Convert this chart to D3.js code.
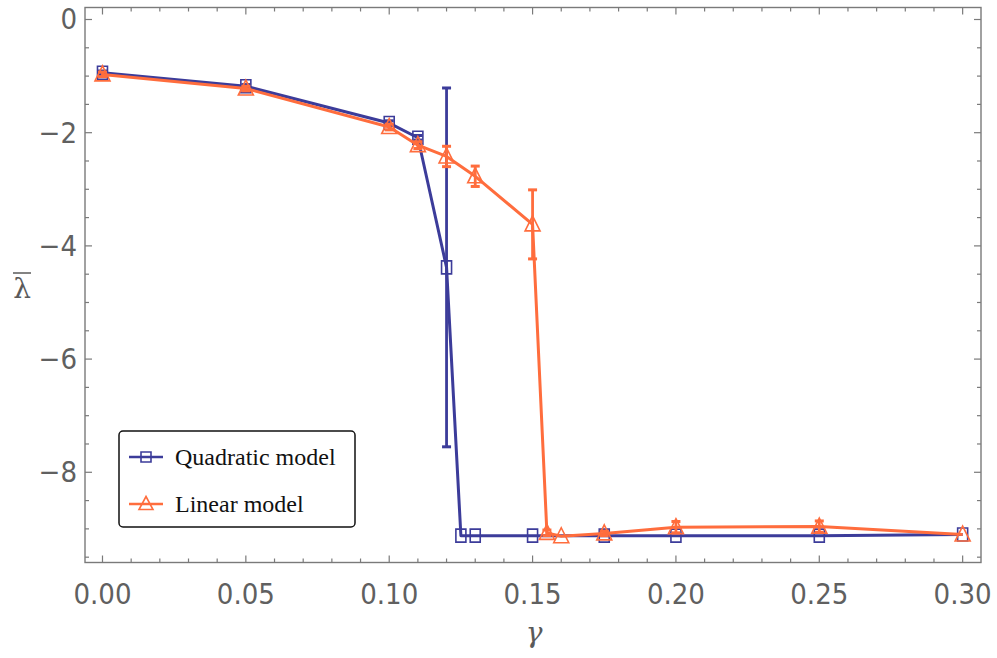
<!DOCTYPE html>
<html>
<head>
<meta charset="utf-8">
<script src="https://cdn.jsdelivr.net/npm/d3@7"></script>
<style>
  body { margin: 0; background: #fff; }
  svg { display: block; }
  .tick-label { font-family: "Liberation Sans Narrow", "DejaVu Sans Condensed", sans-serif; font-size: 29px; fill: #606060; }
  .legend-text { font-family: "Liberation Serif", "DejaVu Serif", serif; font-size: 24px; fill: #111; }
  .axis-title { font-family: "DejaVu Serif", "Liberation Serif", serif; font-size: 28px; fill: #5a5a5a; }
</style>
</head>
<body>
<div id="chart"></div>
<script>
"use strict";

// quadratic model
const gammaQuad = [0, 0.05, 0.1, 0.11, 0.12, 0.125, 0.13, 0.15, 0.175, 0.2, 0.25, 0.3];
const lambdaQuad = [-0.94, -1.18, -1.83, -2.09, -4.38, -9.12, -9.12, -9.12, -9.12, -9.12, -9.12, -9.1];
const errQuad = [0.03, 0.03, 0.04, 0.04, 3.17, 0.02, 0.02, 0.02, 0.02, 0.02, 0.02, 0.02];

// linear model
const gammaLin = [0, 0.05, 0.1, 0.11, 0.12, 0.13, 0.15, 0.155, 0.16, 0.175, 0.2, 0.25, 0.3];
const lambdaLin = [-0.97, -1.22, -1.9, -2.22, -2.42, -2.77, -3.62, -9.07, -9.13, -9.08, -8.97, -8.96, -9.1];
const errLin = [0.04, 0.04, 0.05, 0.06, 0.18, 0.18, 0.61, 0.05, 0.02, 0.04, 0.1, 0.1, 0.02];

const xTicks = [0, 0.05, 0.1, 0.15, 0.2, 0.25, 0.3];
const yTicks = [0, -2, -4, -6, -8];

const blue = "#3c3c9a";
const orange = "#ff6d3d";
const frameColor = "#7a7a7a";

const W = 997, H = 658;
const mLeft = 85, mRight = 981, mTop = 7.5, mBottom = 562.5;

const x = d3.scaleLinear().domain([-0.0061, 0.3064]).range([mLeft, mRight]);
const y = d3.scaleLinear().domain([-9.594, 0.212]).range([mBottom, mTop]);

const svg = d3.select("#chart").append("svg")
  .attr("width", W)
  .attr("height", H);

// frame
svg.append("rect")
  .attr("x", mLeft).attr("y", mTop)
  .attr("width", mRight - mLeft).attr("height", mBottom - mTop)
  .attr("fill", "none")
  .attr("stroke", frameColor)
  .attr("stroke-width", 1.4);

// ticks, all four sides, pointing inward
const xMinor = d3.range(0, 31).map((i) => i / 100);
const yMinor = d3.range(0, 20).map((i) => -i / 2);
const ticksG = svg.append("g").attr("stroke", frameColor).attr("stroke-width", 1.2);

xMinor.forEach((t) => {
  const major = Math.round(t * 100) % 5 === 0;
  const len = major ? 7 : 4;
  ticksG.append("line").attr("x1", x(t)).attr("x2", x(t)).attr("y1", mBottom).attr("y2", mBottom - len);
  ticksG.append("line").attr("x1", x(t)).attr("x2", x(t)).attr("y1", mTop).attr("y2", mTop + len);
});
yMinor.forEach((t) => {
  const major = Math.abs(t) % 2 === 0;
  const len = major ? 7 : 4;
  ticksG.append("line").attr("x1", mLeft).attr("x2", mLeft + len).attr("y1", y(t)).attr("y2", y(t));
  ticksG.append("line").attr("x1", mRight).attr("x2", mRight - len).attr("y1", y(t)).attr("y2", y(t));
});

// tick labels
svg.append("g").selectAll("text")
  .data(xTicks)
  .join("text")
  .attr("class", "tick-label")
  .attr("x", (d) => x(d))
  .attr("y", 604)
  .attr("text-anchor", "middle")
  .text(d3.format(".2f"));

svg.append("g").selectAll("text")
  .data(yTicks)
  .join("text")
  .attr("class", "tick-label")
  .attr("x", 77)
  .attr("y", (d) => y(d) + 10)
  .attr("text-anchor", "end")
  .text((d) => (d === 0 ? "0" : "\u2212" + Math.abs(d)));

// axis titles
svg.append("text")
  .attr("class", "axis-title")
  .attr("x", 534).attr("y", 642)
  .attr("text-anchor", "middle")
  .style("font-style", "italic")
  .text("\u03b3");

const lam = svg.append("g").attr("transform", "translate(22,298)");
lam.append("text")
  .attr("class", "axis-title")
  .attr("text-anchor", "middle")
  .text("\u03bb");
lam.append("line")
  .attr("x1", -9).attr("x2", 9).attr("y1", -25).attr("y2", -25)
  .attr("stroke", "#5a5a5a").attr("stroke-width", 1.5);

const quad = gammaQuad.map((g, i) => ({ g: g, v: lambdaQuad[i], e: errQuad[i] }));
const lin = gammaLin.map((g, i) => ({ g: g, v: lambdaLin[i], e: errLin[i] }));

const line = d3.line().x((d) => x(d.g)).y((d) => y(d.v));

function drawSeries(data, color, marker) {
  const g = svg.append("g");
  g.append("path")
    .datum(data)
    .attr("d", line)
    .attr("fill", "none")
    .attr("stroke", color)
    .attr("stroke-width", 3)
    .attr("stroke-linejoin", "round");

  const eb = g.selectAll(".eb").data(data.filter((d) => y(d.v - d.e) - y(d.v + d.e) > 3)).join("g");
  eb.append("line")
    .attr("x1", (d) => x(d.g)).attr("x2", (d) => x(d.g))
    .attr("y1", (d) => y(d.v + d.e)).attr("y2", (d) => y(d.v - d.e))
    .attr("stroke", color).attr("stroke-width", 2.8);
  [1, -1].forEach((s) => {
    eb.append("line")
      .attr("x1", (d) => x(d.g) - 4.5).attr("x2", (d) => x(d.g) + 4.5)
      .attr("y1", (d) => y(d.v + s * d.e)).attr("y2", (d) => y(d.v + s * d.e))
      .attr("stroke", color).attr("stroke-width", 3);
  });

  g.selectAll(".mk").data(data).join("path")
    .attr("transform", (d) => `translate(${x(d.g)},${y(d.v)})`)
    .attr("d", marker)
    .attr("fill", "none")
    .attr("stroke", color)
    .attr("stroke-width", 1.6);
}

const squarePath = "M-5,-6.5H5V6.5H-5Z";
const trianglePath = "M0,-8.5L7.5,6.5H-7.5Z";

drawSeries(quad, blue, squarePath);
drawSeries(lin, orange, trianglePath);

// legend
const lg = svg.append("g");
lg.append("rect")
  .attr("x", 119).attr("y", 431)
  .attr("width", 236).attr("height", 96)
  .attr("rx", 4)
  .attr("fill", "#fff")
  .attr("stroke", "#111")
  .attr("stroke-width", 1.5);

const legendItems = [
  { label: "Quadratic model", color: blue, marker: "M-5,-5H5V5H-5Z", y: 457 },
  { label: "Linear model", color: orange, marker: "M0,-7.5L7,5.5H-7Z", y: 504 }
];
legendItems.forEach((it) => {
  lg.append("line")
    .attr("x1", 129).attr("x2", 163).attr("y1", it.y).attr("y2", it.y)
    .attr("stroke", it.color).attr("stroke-width", 2.5);
  lg.append("path")
    .attr("transform", `translate(146,${it.y})`)
    .attr("d", it.marker)
    .attr("fill", "none")
    .attr("stroke", it.color)
    .attr("stroke-width", 1.6);
  lg.append("text")
    .attr("class", "legend-text")
    .attr("x", 175).attr("y", it.y + 8)
    .text(it.label);
});
</script>
</body>
</html>
